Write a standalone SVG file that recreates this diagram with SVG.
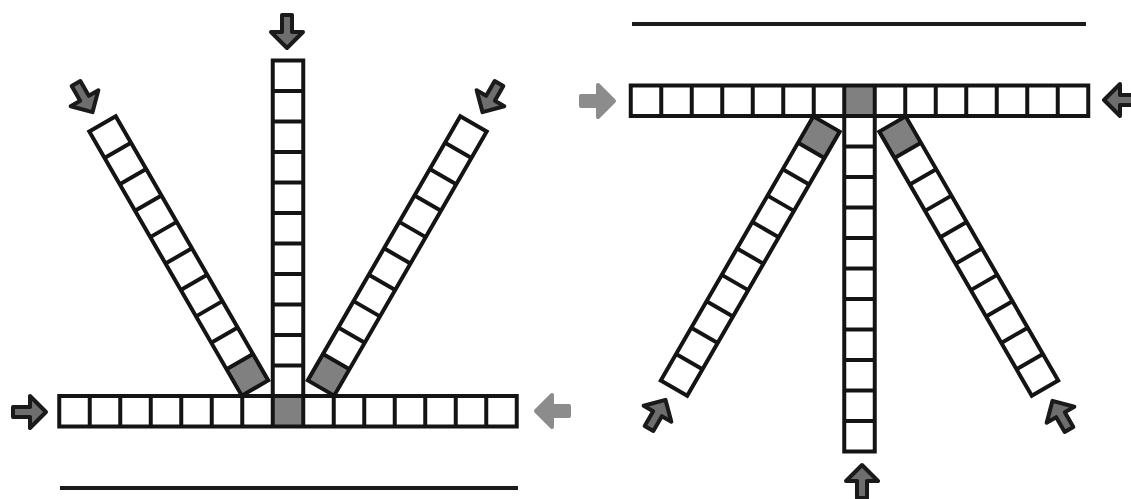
<svg xmlns="http://www.w3.org/2000/svg" width="1131" height="499" viewBox="0 0 1131 499">
<style>
.cell{fill:#ffffff}
.shade{fill:#808080}
.frame{fill:none;stroke:#141414;stroke-width:4;stroke-linejoin:miter}
.rule{stroke:#1a1a1a;stroke-width:4}
.darr{fill:#6e6e6e;stroke:#1a1a1a;stroke-width:4;stroke-linejoin:round}
.larr{fill:#8c8c8c;stroke:#8c8c8c;stroke-width:4;stroke-linejoin:round}
</style>
<defs>
<path id="arrow" d="M-5,-34 H5 V-17 H16 L0,-1 L-16,-17 H-5 Z"/>
</defs>
<rect width="1131" height="499" fill="#ffffff"/>

<!-- LEFT FIGURE -->
<g id="left-figure">
  <line id="left-baseline" class="rule" x1="60" y1="488" x2="518" y2="488"/>

  <g id="left-vertical-bar" transform="translate(272.75,60.5)">
    <rect class="cell" x="0" y="0" width="30.5" height="335.5"/>
    <rect class="frame" x="0" y="0" width="30.5" height="335.5"/>
    <path class="frame" d="M0,30.5H30.5M0,61H30.5M0,91.5H30.5M0,122H30.5M0,152.5H30.5M0,183H30.5M0,213.5H30.5M0,244H30.5M0,274.5H30.5M0,305H30.5"/>
  </g>

  <g id="left-diagonal-left" transform="translate(255,388) rotate(-30)">
    <rect class="cell" x="-15.25" y="-305" width="30.5" height="305"/>
    <rect class="shade" x="-15.25" y="-30.5" width="30.5" height="30.5"/>
    <rect class="frame" x="-15.25" y="-305" width="30.5" height="305"/>
    <path class="frame" d="M-15.25,-30.5H15.25M-15.25,-61H15.25M-15.25,-91.5H15.25M-15.25,-122H15.25M-15.25,-152.5H15.25M-15.25,-183H15.25M-15.25,-213.5H15.25M-15.25,-244H15.25M-15.25,-274.5H15.25"/>
  </g>

  <g id="left-diagonal-right" transform="translate(321,388) rotate(30)">
    <rect class="cell" x="-15.25" y="-305" width="30.5" height="305"/>
    <rect class="shade" x="-15.25" y="-30.5" width="30.5" height="30.5"/>
    <rect class="frame" x="-15.25" y="-305" width="30.5" height="305"/>
    <path class="frame" d="M-15.25,-30.5H15.25M-15.25,-61H15.25M-15.25,-91.5H15.25M-15.25,-122H15.25M-15.25,-152.5H15.25M-15.25,-183H15.25M-15.25,-213.5H15.25M-15.25,-244H15.25M-15.25,-274.5H15.25"/>
  </g>

  <g id="left-horizontal-bar" transform="translate(59.25,396)">
    <rect class="cell" x="0" y="0" width="457.5" height="30.5"/>
    <rect class="shade" x="213.5" y="0" width="30.5" height="30.5"/>
    <rect class="frame" x="0" y="0" width="457.5" height="30.5"/>
    <path class="frame" d="M30.5,0V30.5M61,0V30.5M91.5,0V30.5M122,0V30.5M152.5,0V30.5M183,0V30.5M213.5,0V30.5M244,0V30.5M274.5,0V30.5M305,0V30.5M335.5,0V30.5M366,0V30.5M396.5,0V30.5M427,0V30.5"/>
  </g>

  <g id="left-arrows">
    <use href="#arrow" class="darr" transform="translate(287,49)"/>
    <use href="#arrow" class="darr" transform="translate(93,113) rotate(-30)"/>
    <use href="#arrow" class="darr" transform="translate(482,113) rotate(30)"/>
    <use href="#arrow" class="darr" transform="translate(47,412) rotate(-90)"/>
    <use href="#arrow" class="larr" transform="translate(535,411) rotate(90)"/>
  </g>
</g>

<!-- RIGHT FIGURE -->
<g id="right-figure">
  <line id="right-topline" class="rule" x1="632" y1="24" x2="1086" y2="24"/>

  <g id="right-vertical-bar" transform="translate(844.25,116)">
    <rect class="cell" x="0" y="0" width="30.5" height="335.5"/>
    <rect class="frame" x="0" y="0" width="30.5" height="335.5"/>
    <path class="frame" d="M0,30.5H30.5M0,61H30.5M0,91.5H30.5M0,122H30.5M0,152.5H30.5M0,183H30.5M0,213.5H30.5M0,244H30.5M0,274.5H30.5M0,305H30.5"/>
  </g>

  <g id="right-diagonal-left" transform="translate(826.5,124) rotate(30)">
    <rect class="cell" x="-15.25" y="0" width="30.5" height="305"/>
    <rect class="shade" x="-15.25" y="0" width="30.5" height="30.5"/>
    <rect class="frame" x="-15.25" y="0" width="30.5" height="305"/>
    <path class="frame" d="M-15.25,30.5H15.25M-15.25,61H15.25M-15.25,91.5H15.25M-15.25,122H15.25M-15.25,152.5H15.25M-15.25,183H15.25M-15.25,213.5H15.25M-15.25,244H15.25M-15.25,274.5H15.25"/>
  </g>

  <g id="right-diagonal-right" transform="translate(892.5,124) rotate(-30)">
    <rect class="cell" x="-15.25" y="0" width="30.5" height="305"/>
    <rect class="shade" x="-15.25" y="0" width="30.5" height="30.5"/>
    <rect class="frame" x="-15.25" y="0" width="30.5" height="305"/>
    <path class="frame" d="M-15.25,30.5H15.25M-15.25,61H15.25M-15.25,91.5H15.25M-15.25,122H15.25M-15.25,152.5H15.25M-15.25,183H15.25M-15.25,213.5H15.25M-15.25,244H15.25M-15.25,274.5H15.25"/>
  </g>

  <g id="right-horizontal-bar" transform="translate(630.75,85.5)">
    <rect class="cell" x="0" y="0" width="457.5" height="30.5"/>
    <rect class="shade" x="213.5" y="0" width="30.5" height="30.5"/>
    <rect class="frame" x="0" y="0" width="457.5" height="30.5"/>
    <path class="frame" d="M30.5,0V30.5M61,0V30.5M91.5,0V30.5M122,0V30.5M152.5,0V30.5M183,0V30.5M213.5,0V30.5M244,0V30.5M274.5,0V30.5M305,0V30.5M335.5,0V30.5M366,0V30.5M396.5,0V30.5M427,0V30.5"/>
  </g>

  <g id="right-arrows">
    <use href="#arrow" class="larr" transform="translate(615,101) rotate(-90)"/>
    <use href="#arrow" class="darr" transform="translate(1103,100) rotate(90)"/>
    <use href="#arrow" class="darr" transform="translate(862,464) rotate(180)"/>
    <use href="#arrow" class="darr" transform="translate(666,399) rotate(-150)"/>
    <use href="#arrow" class="darr" transform="translate(1052,400) rotate(150)"/>
  </g>
</g>
</svg>
